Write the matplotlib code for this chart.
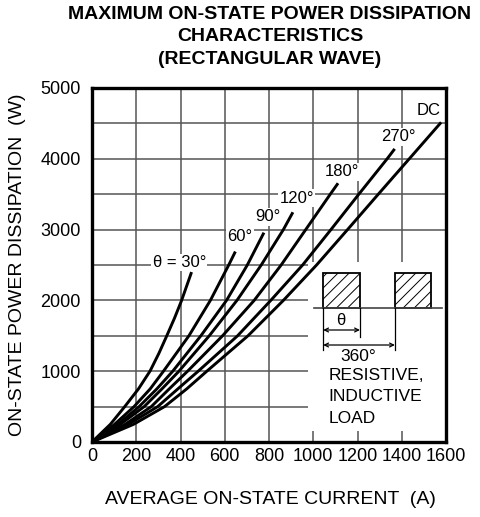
import matplotlib
matplotlib.use("Agg")
import matplotlib.pyplot as plt
from matplotlib.patches import Rectangle

plt.rcParams['font.family'] = ['Liberation Sans', 'DejaVu Sans']
plt.rcParams['hatch.linewidth'] = 0.7

# Curve data (current A, power W)
i_30 = [0, 83, 148, 210, 262, 302, 338, 373, 405, 450]
p_30 = [0, 250, 500, 750, 1000, 1250, 1500, 1750, 2000, 2400]

i_60 = [0, 102, 190, 263, 323, 438, 535, 618, 648]
p_60 = [0, 250, 500, 750, 1000, 1500, 2000, 2500, 2690]

i_90 = [0, 117, 213, 293, 365, 492, 608, 702, 777]
p_90 = [0, 250, 500, 750, 1000, 1500, 2000, 2500, 2957]

i_120 = [0, 128, 236, 316, 393, 530, 655, 765, 865, 908]
p_120 = [0, 250, 500, 750, 1000, 1500, 2000, 2500, 3000, 3245]

i_180 = [0, 150, 268, 349, 432, 590, 733, 855, 966, 1077, 1112]
p_180 = [0, 250, 500, 750, 1000, 1500, 2000, 2500, 3000, 3500, 3655]

i_270 = [0, 165, 297, 388, 480, 658, 808, 952, 1080, 1206, 1334, 1368]
p_270 = [0, 250, 500, 750, 1000, 1500, 2000, 2500, 3000, 3500, 4000, 4140]

i_dc = [0, 188, 328, 428, 519, 705, 865, 1015, 1155, 1294, 1434, 1578]
p_dc = [0, 250, 500, 750, 1000, 1500, 2000, 2500, 3000, 3500, 4000, 4515]

curve_labels = ["\u03b8 = 30\u00b0", "60\u00b0", "90\u00b0", "120\u00b0", "180\u00b0", "270\u00b0", "DC"]
label_x = [395, 669, 797, 925, 1128, 1384, 1520]
label_y = [2535, 2900, 3182, 3442, 3818, 4312, 4689]

x_ticks = [0, 200, 400, 600, 800, 1000, 1200, 1400, 1600]
y_ticks = [0, 1000, 2000, 3000, 4000, 5000]

fig = plt.figure(figsize=(4.8, 5.17), dpi=100)
ax = fig.add_axes([92 / 480, 75 / 517, 354 / 480, 354 / 517])

curves = [(i_30, p_30), (i_60, p_60), (i_90, p_90), (i_120, p_120),
          (i_180, p_180), (i_270, p_270), (i_dc, p_dc)]
for xs, ys in curves:
    ax.plot(xs, ys, color="black", lw=2.1, zorder=3, solid_capstyle="butt")

for txt, lx, ly in zip(curve_labels, label_x, label_y):
    ax.text(lx, ly, txt, fontsize=12, ha="center", va="center", zorder=4,
            bbox=dict(facecolor="white", edgecolor="none", pad=1))

ax.set_xlim(0, 1600)
ax.set_ylim(0, 5000)
ax.set_xticks(x_ticks)
ax.set_yticks(y_ticks)
ax.set_yticks(range(500, 5000, 1000), minor=True)
ax.tick_params(which="both", length=0, labelsize=13)
ax.tick_params(axis="x", pad=4)
ax.tick_params(axis="y", pad=8)
ax.set_axisbelow(True)
ax.grid(True, which="both", color="#555555", lw=1.1)
for s in ax.spines.values():
    s.set_linewidth(2.4)

# white area for the inset diagram
ax.add_patch(Rectangle((976, 150), 624, 2390, facecolor="white", edgecolor="none", zorder=1))

# waveform sketch
ax.add_patch(Rectangle((1045, 1897), 166, 494, fill=False, hatch="///", edgecolor="black", lw=1.3, zorder=2))
ax.add_patch(Rectangle((1369, 1897), 162, 494, fill=False, hatch="///", edgecolor="black", lw=1.3, zorder=2))
ax.plot([1004, 1580], [1897, 1897], color="#444444", lw=1.2, zorder=2)
ax.plot([1045, 1045], [1897, 1300], color="black", lw=0.9, zorder=2)
ax.plot([1211, 1211], [1897, 1480], color="black", lw=0.9, zorder=2)
ax.plot([1369, 1369], [1897, 1300], color="black", lw=0.9, zorder=2)
ax.annotate("", xy=(1045, 1582), xytext=(1211, 1582),
            arrowprops=dict(arrowstyle="<->", lw=0.9, shrinkA=0, shrinkB=0,
                            mutation_scale=7), zorder=2)
ax.annotate("", xy=(1045, 1370), xytext=(1369, 1370),
            arrowprops=dict(arrowstyle="<->", lw=0.9, shrinkA=0, shrinkB=0,
                            mutation_scale=7), zorder=2)
ax.text(1123, 1720, "\u03b8", fontsize=12, ha="center", va="center", zorder=2)
ax.text(1204, 1205, "360\u00b0", fontsize=12.5, ha="center", va="center", zorder=2)
ax.text(1068, 946, "RESISTIVE,", fontsize=12.5, ha="left", va="center", zorder=2)
ax.text(1068, 640, "INDUCTIVE", fontsize=12.5, ha="left", va="center", zorder=2)
ax.text(1068, 335, "LOAD", fontsize=12.5, ha="left", va="center", zorder=2)

fig.text(270 / 480, 1 - 6 / 517, "MAXIMUM ON-STATE POWER DISSIPATION\nCHARACTERISTICS\n(RECTANGULAR WAVE)",
         fontsize=14, fontweight="bold", ha="center", va="top", linespacing=1.42)
fig.text(270 / 480, 1 - 500 / 517, "AVERAGE ON-STATE CURRENT  (A)", fontsize=14, ha="center", va="center")
fig.text(18 / 480, 1 - 265 / 517, "ON-STATE POWER DISSIPATION  (W)", fontsize=14, ha="center", va="center",
         rotation=90)

fig.savefig("out.png", dpi=100)
